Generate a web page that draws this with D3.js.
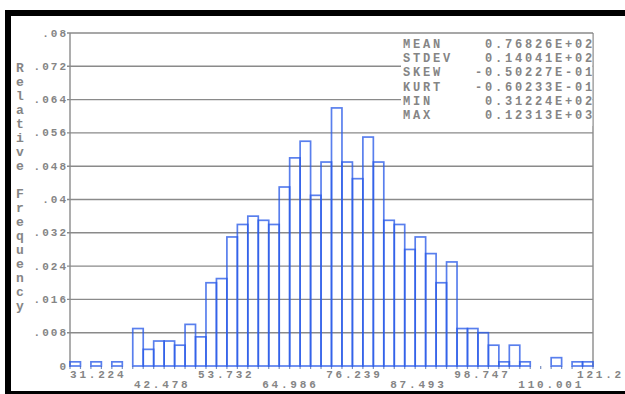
<!DOCTYPE html>
<html>
<head>
<meta charset="utf-8">
<script src="https://cdn.jsdelivr.net/npm/d3@7"></script>
<style>
  html, body { margin: 0; padding: 0; background: #fff; }
  svg { display: block; }
  text { font-family: "Liberation Mono", "DejaVu Sans Mono", monospace; }
</style>
</head>
<body>
<svg id="chart" width="625" height="394"></svg>
<script>
// ---- data ----
const xMin = 31.224;
const xMax = 123.13;
const binFreq = [
  0.001, 0, 0.001, 0, 0.001, 0, 0.009, 0.004, 0.006, 0.006,
  0.005, 0.010, 0.007, 0.020, 0.021, 0.031, 0.034, 0.036, 0.035, 0.034,
  0.043, 0.050, 0.054, 0.041, 0.049, 0.062, 0.049, 0.045, 0.055, 0.049,
  0.035, 0.034, 0.028, 0.031, 0.027, 0.020, 0.025, 0.009, 0.009, 0.008,
  0.005, 0.001, 0.005, 0.001, 0, 0, 0.002, 0, 0.001, 0.001
];
const xTickValues = [31.224, 42.478, 53.732, 64.986, 76.239, 87.493, 98.747, 110.001, 121.255];
const xTickLabels = ["31.224", "42.478", "53.732", "64.986", "76.239", "87.493", "98.747", "110.001", "121.2"];
const yTickValues = [0.08, 0.072, 0.064, 0.056, 0.048, 0.04, 0.032, 0.024, 0.016, 0.008, 0];
const yTickLabels = [".08", ".072", ".064", ".056", ".048", ".04", ".032", ".024", ".016", ".008", "0"];
const statNames = ["MEAN", "STDEV", "SKEW", "KURT", "MIN", "MAX"];
const statValues = ["0.76826E+02", "0.14041E+02", "-0.50227E-01", "-0.60233E-01", "0.31224E+02", "0.12313E+03"];
const yTitle = "Relative Frequency";

// ---- layout ----
const svg = d3.select("#chart");
const pL = 70, pR = 593, pT = 33, pB = 366;
const x = d3.scaleLinear().domain([xMin, xMax]).range([pL, pR]);
const y = d3.scaleLinear().domain([0, 0.08]).range([pB, pT]);
const nBins = binFreq.length;
const binW = (xMax - xMin) / nBins;
const bins = binFreq.map((v, i) => ({ x0: xMin + i * binW, x1: xMin + (i + 1) * binW, v }));
const textColor = "#858585";

// background
svg.append("rect").attr("x", 0).attr("y", 0).attr("width", 625).attr("height", 394).attr("fill", "#fff");

// frame (black borders)
svg.append("rect").attr("x", 5).attr("y", 10).attr("width", 620).attr("height", 6).attr("fill", "#000");
svg.append("rect").attr("x", 5).attr("y", 10).attr("width", 6).attr("height", 384).attr("fill", "#000");
svg.append("rect").attr("x", 5).attr("y", 391).attr("width", 620).attr("height", 3).attr("fill", "#000");

// gridlines
svg.append("g").selectAll("line").data(yTickValues.filter(v => v > 0)).join("line")
  .attr("x1", pL - 3).attr("x2", pR)
  .attr("y1", d => y(d)).attr("y2", d => y(d))
  .attr("stroke", "#8a8a8a").attr("stroke-width", 1.4);

// axis lines
svg.append("line").attr("x1", pL).attr("x2", pL).attr("y1", pT).attr("y2", pB + 1)
  .attr("stroke", "#8a8a8a").attr("stroke-width", 1.4);
svg.append("line").attr("x1", pR).attr("x2", pR).attr("y1", pT).attr("y2", pB + 1)
  .attr("stroke", "#8a8a8a").attr("stroke-width", 1.4);

// stats box (white, hides gridlines)
svg.append("rect").attr("x", 401).attr("y", pT + 1).attr("width", pR - 401 - 0.7).attr("height", 92).attr("fill", "#fff");

// small ticks at bin edges along the baseline
const edges = d3.range(nBins + 1).map(i => xMin + i * binW);
svg.append("g").selectAll("line").data(edges).join("line")
  .attr("x1", d => x(d)).attr("x2", d => x(d))
  .attr("y1", pB).attr("y2", pB + 3)
  .attr("stroke", "#7a8fc0").attr("stroke-width", 1.2);

// bars
svg.append("g").selectAll("rect").data(bins.filter(b => b.v > 0)).join("rect")
  .attr("x", d => x(d.x0))
  .attr("y", d => y(d.v))
  .attr("width", d => x(d.x1) - x(d.x0))
  .attr("height", d => y(0) - y(d.v))
  .attr("fill", "none")
  .attr("stroke", "#2a5be8")
  .attr("stroke-opacity", 0.78)
  .attr("stroke-width", 1.7);

// y tick labels
svg.append("g").selectAll("text").data(yTickValues).join("text")
  .attr("x", 68)
  .attr("y", d => y(d) + 3.5)
  .attr("text-anchor", "end")
  .attr("font-size", 11)
  .attr("font-weight", "bold")
  .attr("letter-spacing", 2)
  .attr("fill", textColor)
  .text((d, i) => yTickLabels[i]);

// y title: stacked letters
const letters = yTitle.split("");
svg.append("g").selectAll("text").data(letters).join("text")
  .attr("x", 20)
  .attr("y", (d, i) => 72 + i * 14)
  .attr("text-anchor", "middle")
  .attr("font-size", 13)
  .attr("font-weight", "bold")
  .attr("fill", textColor)
  .text(d => d);

// x tick labels (alternating rows); the last one is pinned to the right edge
const lastI = xTickValues.length - 1;
svg.append("g").selectAll("text").data(xTickValues).join("text")
  .attr("x", (d, i) => i === lastI ? 624 : x(d))
  .attr("y", (d, i) => i % 2 === 0 ? 378 : 388)
  .attr("text-anchor", (d, i) => i === lastI ? "end" : "start")
  .attr("font-size", 11)
  .attr("font-weight", "bold")
  .attr("letter-spacing", 2.8)
  .attr("fill", textColor)
  .text((d, i) => xTickLabels[i]);

// stats text
const stats = svg.append("g");
stats.selectAll("text.name").data(statNames).join("text")
  .attr("class", "name")
  .attr("x", 403)
  .attr("y", (d, i) => 48 + i * 14.2)
  .attr("font-size", 12)
  .attr("font-weight", "bold")
  .attr("letter-spacing", 2.8)
  .attr("fill", textColor)
  .text(d => d);
stats.selectAll("text.val").data(statValues).join("text")
  .attr("class", "val")
  .attr("x", 595)
  .attr("y", (d, i) => 48 + i * 14.2)
  .attr("text-anchor", "end")
  .attr("font-size", 12)
  .attr("font-weight", "bold")
  .attr("letter-spacing", 2.8)
  .attr("fill", textColor)
  .text(d => d);
</script>
</body>
</html>
